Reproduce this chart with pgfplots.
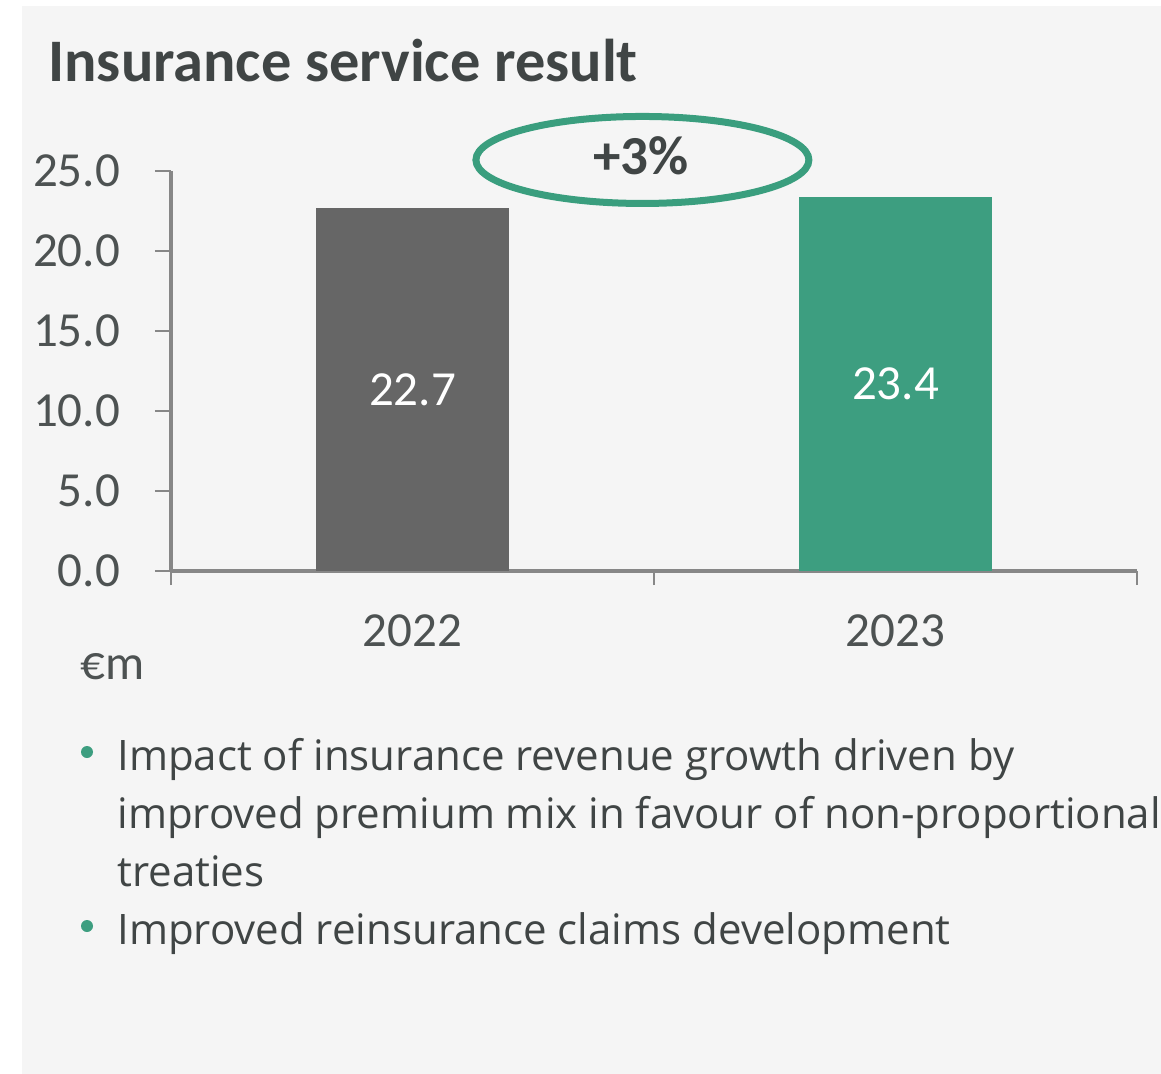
\documentclass[border=0pt]{standalone}
\usepackage{fontspec}
\setmainfont{Carlito}
\newfontfamily\osans{Open Sans}
\usepackage{pgfplots}
\pgfplotsset{compat=1.18}
\definecolor{bg}{HTML}{F5F5F5}
\definecolor{txt}{HTML}{404545}
\definecolor{tick}{HTML}{4D5252}
\definecolor{axgray}{HTML}{878787}
\definecolor{bargray}{HTML}{666666}
\definecolor{bargreen}{HTML}{3D9E80}
\definecolor{ringgreen}{HTML}{3A9E7E}
\begin{document}
\begin{tikzpicture}
\fill[white] (0,0) rectangle (580.5pt,-537pt);
\fill[bg] (11pt,-3pt) rectangle (580.5pt,-537pt);
\node[anchor=base west, inner sep=0, text=txt, font=\fontsize{30.2}{35}\selectfont\bfseries] at (24pt,-41pt) {Insurance service result};
\begin{axis}[
  at={(85.5pt,-285.5pt)}, anchor=south west,
  scale only axis, width=483pt, height=200pt,
  xmin=-0.5, xmax=1.5, ymin=0, ymax=25,
  axis lines*=left, axis line style={-, draw=axgray, line width=1.6pt},
  clip=false,
  xtick={0,1}, xticklabels={2022,2023},
  minor xtick={-0.5,0.5,1.5},
  ytick={0,5,10,15,20,25},
  tick align=outside,
  major x tick style={draw=none},
  minor x tick style={draw=axgray, line width=1.4pt},
  minor tick length=7pt,
  major y tick style={draw=axgray, line width=1.4pt},
  major tick length=8pt,
  /pgf/number format/assume math mode=true,
  yticklabel style={xshift=-14pt, /pgf/number format/.cd, fixed, fixed zerofill, precision=1},
  xticklabel style={yshift=-10.5pt},
  tick label style={text=tick, font=\fontsize{24.5}{28}\selectfont},
]
\addplot[ybar, bar shift=0pt, bar width=0.4, fill=bargray, draw=none] coordinates {(0,22.7)};
\addplot[ybar, bar shift=0pt, bar width=0.4, fill=bargreen, draw=none] coordinates {(1,23.4)};
\addplot[only marks, mark=none, nodes near coords, point meta=explicit symbolic,
  every node near coord/.append style={anchor=center, text=white, font=\fontsize{24.5}{28}\selectfont}]
  coordinates {(0,11.35)[22.7] (1,11.7)[23.4]};
\draw[ringgreen, line width=3.5pt] (axis cs:0.476,25.69) ellipse [x radius=83.25pt, y radius=21.75pt];
\end{axis}
\node[anchor=base, inner sep=0, text=txt, font=\fontsize{27.5}{32}\selectfont\bfseries] at (320.5pt,-87.5pt) {+3\%};
\node[anchor=base west, inner sep=0, text=tick, font=\fontsize{24.5}{28}\selectfont] at (40pt,-339.5pt) {€m};
\begin{scope}[every node/.style={anchor=base west, inner sep=0, text=txt, font=\osans\fontsize{21}{25}\selectfont}]
\node at (58.5pt,-385pt) {Impact of insurance revenue growth driven by};
\node at (58.5pt,-414pt) {improved premium mix in favour of non-proportional};
\node at (58.5pt,-443pt) {treaties};
\node at (58.5pt,-472pt) {Improved reinsurance claims development};
\end{scope}
\fill[bargreen] (43.5pt,-376pt) circle (3pt);
\fill[bargreen] (43.5pt,-463pt) circle (3pt);
\pgfresetboundingbox
\useasboundingbox (0,0) rectangle (580.5pt,-537pt);
\end{tikzpicture}
\end{document}
